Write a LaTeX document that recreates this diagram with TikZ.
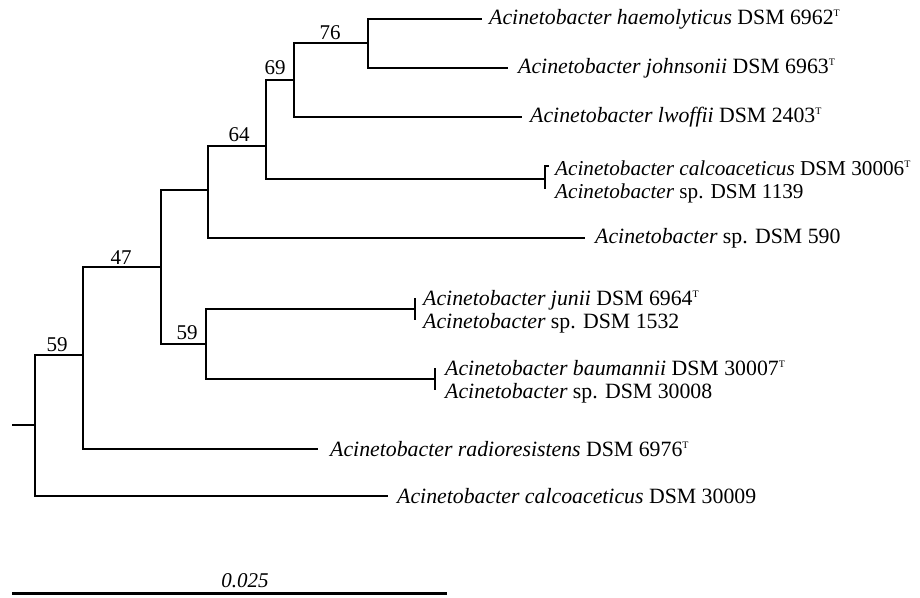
\documentclass[tikz,border=0pt]{standalone}
\usepackage{fontspec}
\setmainfont{Liberation Serif}
\newcommand\typestrain{\raisebox{8pt}{\fontsize{10}{10}\selectfont T}}
\begin{document}
\begin{tikzpicture}[x=1pt,y=-1pt,
  br/.style={line width=1.4pt},
  lab/.style={font=\fontsize{21.8}{22.5}\selectfont, inner sep=0pt, anchor=west},
  bs/.style={font=\fontsize{21}{23}\selectfont, inner sep=0pt}]
\useasboundingbox (0,0) rectangle (920,597);
% internal nodes
\coordinate (r0) at (12,425);
\coordinate (A) at (35,425);
\coordinate (B) at (83,355);
\coordinate (C) at (161,267);
\coordinate (D) at (208,190);
\coordinate (E) at (266,146);
\coordinate (F) at (294,80);
\coordinate (G) at (368,43);
\coordinate (H) at (206,344);
% leaf ends
\coordinate (e1) at (482,19);
\coordinate (e2) at (508,68);
\coordinate (e3) at (522,117);
\coordinate (e4) at (545,179);
\coordinate (e5) at (585,238);
\coordinate (e6) at (415,309);
\coordinate (e7) at (435,379);
\coordinate (e8) at (318,449);
\coordinate (e9) at (388,496);
% edges
\draw[br] (r0) -- (A);
\draw[br] (A) |- (B);
\draw[br] (A) |- (e9);
\draw[br] (B) |- (C);
\draw[br] (B) |- (e8);
\draw[br] (C) |- (D);
\draw[br] (C) |- (H);
\draw[br] (D) |- (E);
\draw[br] (D) |- (e5);
\draw[br] (E) |- (F);
\draw[br] (E) |- (e4);
\draw[br] (F) |- (G);
\draw[br] (F) |- (e3);
\draw[br] (G) |- (e1);
\draw[br] (G) |- (e2);
\draw[br] (H) |- (e6);
\draw[br] (H) |- (e7);
% brackets for identical pairs
\draw[br] ([xshift=4pt,yshift=13pt]e4) -- ([yshift=13pt]e4) -- ([yshift=-10pt]e4);
\draw[br] ([yshift=11pt]e6) -- ([yshift=-11pt]e6);
\draw[br] ([yshift=11pt]e7) -- ([yshift=-11pt]e7);
% leaf labels
\node[lab] (t1) at (489,19) {\textit{Acinetobacter haemolyticus} DSM 6962\typestrain};
\node[lab] (t2) at (518,68) {\textit{Acinetobacter johnsonii} DSM 6963\typestrain};
\node[lab] (t3) at (530,117) {\textit{Acinetobacter lwoffii} DSM 2403\typestrain};
\node[lab, align=left, font=\fontsize{21.2}{22.5}\selectfont] (t4) at (555,182) {\textit{Acinetobacter calcoaceticus} DSM 30006\typestrain\\\textit{Acinetobacter} sp. DSM 1139};
\node[lab] (t5) at (595,238) {\textit{Acinetobacter} sp. DSM 590};
\node[lab, align=left] (t6) at (423,312) {\textit{Acinetobacter junii} DSM 6964\typestrain\\\textit{Acinetobacter} sp. DSM 1532};
\node[lab, align=left] (t7) at (445,382) {\textit{Acinetobacter baumannii} DSM 30007\typestrain\\\textit{Acinetobacter} sp. DSM 30008};
\node[lab] (t8) at (330,449) {\textit{Acinetobacter radioresistens} DSM 6976\typestrain};
\node[lab] (t9) at (397,496) {\textit{Acinetobacter calcoaceticus} DSM 30009};
% bootstrap values
\node[bs] (b76) at (330,33) {76};
\node[bs] (b69) at (275,68) {69};
\node[bs] (b64) at (239,135) {64};
\node[bs] (b47) at (121,258) {47};
\node[bs] (b59i) at (187,333) {59};
\node[bs] (b59o) at (57,345) {59};
% scale bar
\coordinate (s0) at (12,593);
\coordinate (s1) at (447,593);
\draw[line width=3pt] (s0) -- (s1);
\node[bs] (sl) at (245,581) {\textit{0.025}};
\end{tikzpicture}
\end{document}
